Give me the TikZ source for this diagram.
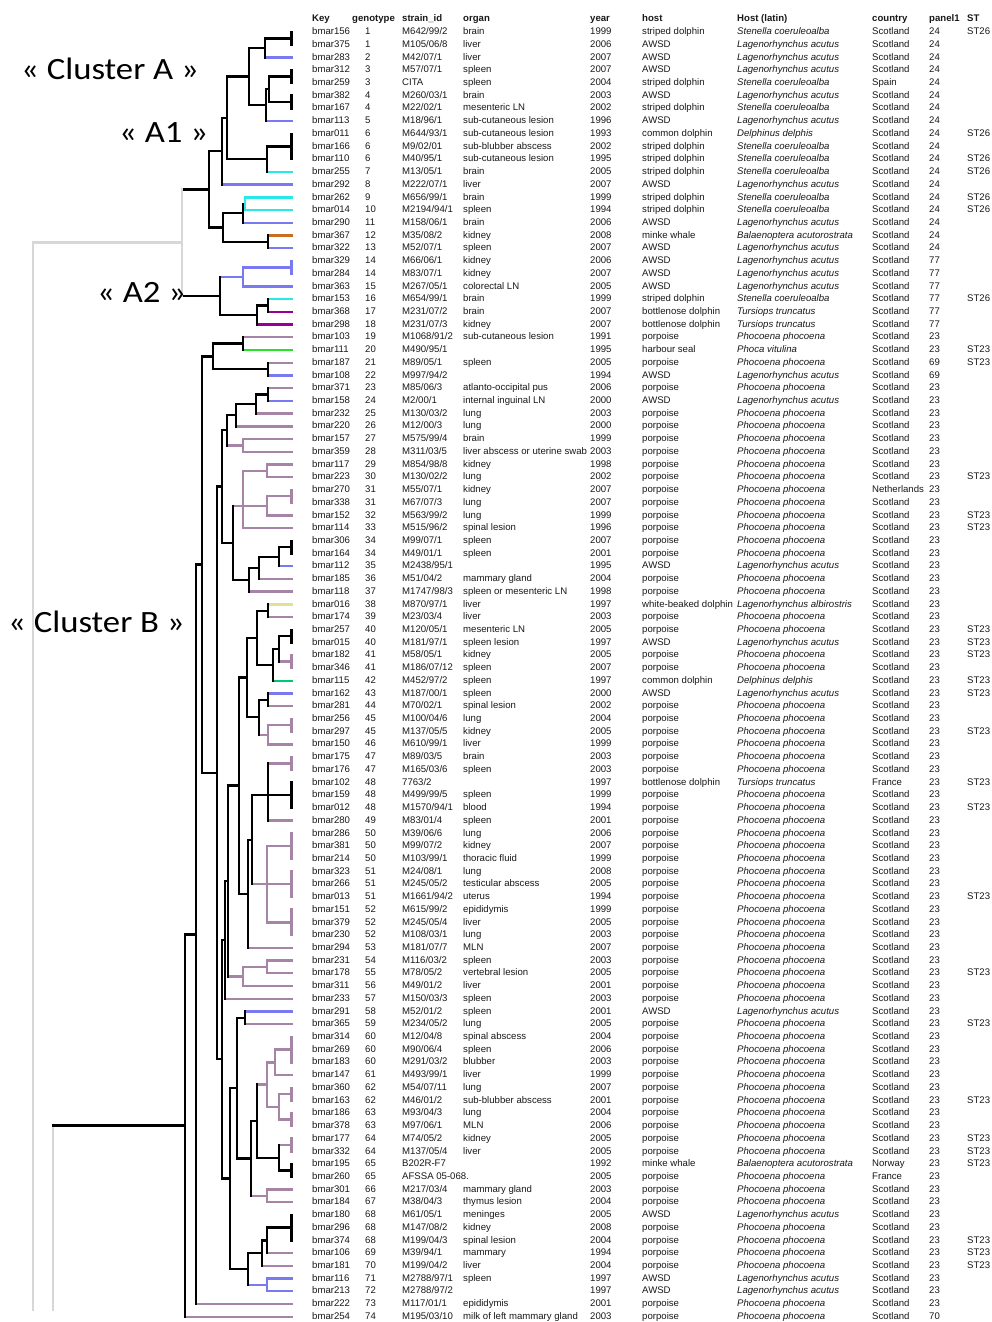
\documentclass[tikz,border=0pt]{standalone}
\usepackage{fontspec}
\setmainfont{Liberation Sans}
\newfontfamily\labfont{Carlito}[FakeStretch=1.12]
\usetikzlibrary{calc}
\definecolor{cAW}{RGB}{122,122,240}
\definecolor{cSD}{RGB}{40,232,232}
\definecolor{cPO}{RGB}{165,132,165}
\definecolor{cMW}{RGB}{200,110,30}
\definecolor{cBD}{RGB}{150,0,150}
\definecolor{cHS}{RGB}{40,225,40}
\definecolor{cCD}{RGB}{0,200,110}
\definecolor{cWB}{RGB}{225,225,150}
\definecolor{cGR}{RGB}{215,215,215}
\definecolor{cTX}{RGB}{25,25,25}
\tikzset{
  br/.style={line width=2.4pt, line cap=rect},
  tc/.style={anchor=mid west, inner sep=0pt, text=cTX, font=\fontsize{9.6}{11}\selectfont},
  tci/.style={tc, font=\fontsize{9.6}{11}\selectfont\itshape},
  hc/.style={tc, font=\fontsize{9.6}{11}\selectfont\bfseries},
  lab/.style={anchor=base west, inner sep=0pt, font=\labfont\fontsize{31}{33}\selectfont, text=black},
}
\newcommand\tnode[4]{\path let \p1=(#3), \p2=(#4) in (#2pt,{0.5*(\y1)+0.5*(\y2)}) coordinate (#1);}
\newcommand\tnodeM[3]{\path let \p1=(#3) in (#2pt,\y1) coordinate (#1);}
\newcommand\tick[4]{%
  \pgfmathsetmacro\ya{-(32+(#2-1)*12.72)}\pgfmathsetmacro\yb{-(32+(#3-1)*12.72)}%
  \pgfmathsetmacro\ym{0.5*((\ya)+(\yb))}%
  \coordinate (#1) at (291.5pt,\ym pt);
  \draw[br,#4] (291.5pt,\ya pt) -- (291.5pt,\yb pt);}
\newcommand\brV[4]{\draw[br,#4] (#1 |- #2) -- (#1 |- #3);}
\newcommand\brH[3]{\draw[br,#3] (#1 |- #2) -- (#2);}
\newcommand\tn[7]{\tnode{#1}{#2}{#3}{#4}\brH{#1}{#3}{#6}\brH{#1}{#4}{#7}\brV{#1}{#3}{#4}{#5}}
\newcommand\tnt[9]{\tnodeM{#1}{#2}{#4}\brH{#1}{#3}{#7}\brH{#1}{#4}{#8}\brH{#1}{#5}{#9}\brV{#1}{#3}{#5}{#6}}
\newcommand\R[9]{\pgfmathsetmacro\yy{-(32+(#1-1)*12.72)}%
  \node[tc] (k#1) at (312pt,\yy pt) {#2};
  \node[tc] (g#1) at (365pt,\yy pt) {#3};
  \node[tc] (s#1) at (402pt,\yy pt) {#4};
  \node[tc] (o#1) at (463pt,\yy pt) {#5};
  \node[tc] (y#1) at (590pt,\yy pt) {#6};
  \node[tc] (h#1) at (642pt,\yy pt) {#7};
  \node[tci] (l#1) at (737pt,\yy pt) {#8};
  \node[tc] (c#1) at (872pt,\yy pt) {#9};
  \def\rowid{#1}\Rcont}
\newcommand\Rcont[2]{\node[tc] (p\rowid) at (929pt,\yy pt) {#1};
  \node[tc] (t\rowid) at (967pt,\yy pt) {#2};}
\begin{document}
\begin{tikzpicture}
\fill[white] (0pt,0pt) rectangle (992pt,-1322pt);
\useasboundingbox (0pt,0pt) rectangle (992pt,-1322pt);
% leaves
\foreach \i in {1,...,102}{\pgfmathsetmacro\yy{-(32+(\i-1)*12.72)}\coordinate (L\i) at (292pt,\yy pt);}
% ticks (identical-genotype groups)
\tick{TA}{1}{2}{black}
\tick{TB}{4}{5}{black}
\tick{TC}{6}{7}{black}
\tick{TD}{9}{11}{black}
\tick{TE}{19}{20}{cAW}
\tick{TF}{37}{38}{cPO}
\tick{TG}{41}{42}{black}
\tick{TH}{48}{49}{black}
\tick{TI}{50}{51}{cPO}
\tick{TJ}{55}{56}{cPO}
\tick{TK}{58}{59}{cPO}
\tick{TL}{60}{62}{black}
\tick{TM}{64}{66}{cPO}
\tick{TN}{67}{69}{cPO}
\tick{TO}{70}{72}{cPO}
\tick{TP}{80}{82}{cPO}
\tick{TQ}{84}{85}{cPO}
\tick{TR}{86}{87}{cPO}
\tick{TS}{88}{89}{cPO}
\tick{TT}{90}{91}{black}
\tick{TU}{94}{96}{black}
% cluster A
\tn{Af}{265}{TA}{L3}{black}{black}{cAW}
\tn{Ag2}{269}{TB}{TC}{black}{black}{black}
\tn{Ag}{266}{Ag2}{L8}{black}{black}{cAW}
\tn{Ad}{249}{Af}{Ag}{black}{black}{black}
\tn{Ae}{267}{TD}{L12}{black}{black}{cSD}
\tn{Ac}{227}{Ad}{Ae}{black}{black}{black}
\tn{Aa}{222}{Ac}{L13}{black}{black}{cAW}
\tn{Ah2}{245}{L14}{L15}{cSD}{cSD}{cSD}
\tn{Ah}{243}{Ah2}{L16}{black}{cSD}{cAW}
\tn{Ai}{268}{L17}{L18}{black}{cMW}{cAW}
\tn{Ab}{223}{Ah}{Ai}{black}{black}{black}
\tn{A1}{209}{Aa}{Ab}{black}{black}{black}
\tn{Aj}{243}{TE}{L21}{cAW}{cAW}{cAW}
\tn{Al}{268}{L22}{L23}{black}{cSD}{cBD}
\tn{Ak}{257}{Al}{L24}{black}{black}{cBD}
\tn{A2}{220}{Aj}{Ak}{black}{cAW}{black}
\tn{AR}{182}{A1}{A2}{cGR}{black}{black}
% cluster B
\tn{Ba}{243}{L25}{L26}{black}{cPO}{cHS}
\tn{Bb}{268}{L27}{L28}{black}{cPO}{cAW}
\tn{B3}{213}{Ba}{Bb}{black}{black}{black}
\tn{Bc}{268}{L29}{L30}{black}{cPO}{cAW}
\tn{B10}{256}{Bc}{L31}{black}{black}{cPO}
\tn{B9}{236}{B10}{L32}{black}{black}{cPO}
\tn{Bd}{243}{L33}{L34}{cPO}{cPO}{cPO}
\tn{B7}{227}{B9}{Bd}{black}{black}{cPO}
\tn{Be}{267}{L35}{L36}{cPO}{cPO}{cPO}
\tn{Bf}{267}{TF}{L39}{cPO}{cPO}{cPO}
\tnt{P1}{243}{Be}{Bf}{L40}{cPO}{cPO}{cPO}{cPO}
\tn{B13}{279}{TG}{L43}{black}{black}{cAW}
\tn{B12}{259}{B13}{L44}{black}{black}{cPO}
\tn{B11}{249}{B12}{L45}{black}{black}{cPO}
\tn{B8}{233}{P1}{B11}{black}{cPO}{black}
\tn{B5}{222}{B7}{B8}{black}{black}{black}
\tn{Xa}{268}{L46}{L47}{black}{cWB}{cPO}
\tn{Xb}{279}{TH}{TI}{black}{black}{cPO}
\tn{Xc}{273}{Xb}{L52}{black}{black}{cCD}
\tn{X257}{257}{Xa}{Xc}{black}{black}{black}
\tn{Xd}{268}{L53}{L54}{black}{cAW}{cPO}
\tn{Xe}{268}{TJ}{L57}{cPO}{cPO}{cPO}
\tn{X259}{259}{Xd}{Xe}{black}{black}{cPO}
\tn{X247}{247}{X257}{X259}{black}{black}{black}
\tnt{Qa}{268}{TK}{TL}{L63}{black}{cPO}{black}{cPO}
\tnt{Qb}{267}{TM}{TN}{TO}{cPO}{cPO}{cPO}{cPO}
\tn{Q}{252}{Qa}{Qb}{black}{black}{cPO}
\tn{N50}{248}{Q}{L73}{black}{black}{cPO}
\tn{X239}{239}{X247}{N50}{black}{black}{black}
\tn{Ra}{267}{L74}{L75}{cPO}{cPO}{cPO}
\tn{Rb}{243}{Ra}{L76}{cPO}{cPO}{cPO}
\tn{B16}{228}{X239}{Rb}{black}{black}{cPO}
\tn{B14}{225}{B16}{L77}{black}{black}{cPO}
\tn{Ya}{245}{L78}{L79}{black}{cAW}{cPO}
\tn{Yb}{275}{TP}{L83}{cPO}{cPO}{cPO}
\tn{Yc}{279}{TQ}{TR}{cPO}{cPO}{cPO}
\tn{Yd}{267}{Yb}{Yc}{cPO}{cPO}{cPO}
\tn{Ye}{279}{TS}{TT}{black}{cPO}{black}
\tn{Y257}{257}{Yd}{Ye}{black}{cPO}{black}
\tn{Yf}{267}{L92}{L93}{cPO}{cPO}{cPO}
\tn{Y251}{251}{Y257}{Yf}{black}{black}{cPO}
\tn{Y237}{237}{Ya}{Y251}{black}{black}{black}
\tn{Yg}{267}{TU}{L97}{black}{black}{cPO}
\tn{Y262}{262}{Yg}{L98}{black}{black}{cPO}
\tn{Yh}{267}{L99}{L100}{cAW}{cAW}{cAW}
\tn{Y248}{248}{Y262}{Yh}{black}{black}{cAW}
\tn{B15}{230}{Y237}{Y248}{black}{black}{black}
\tn{B6}{222}{B14}{B15}{black}{black}{black}
\tn{B4}{217}{B5}{B6}{black}{black}{black}
\tn{B2}{202}{B3}{B4}{black}{black}{black}
\tn{B1}{196}{B2}{L101}{black}{black}{cPO}
\tn{B0}{185}{B1}{L102}{black}{black}{cPO}
% root lines
\path (AR) ++(-149pt,0pt) coordinate (RA);
\path (B0) ++(-132pt,0pt) coordinate (RB);
\coordinate (RAe) at (33pt,-1310pt);
\coordinate (RBe) at (53pt,-1310pt);
\draw[br,cGR] (AR) -- (RA) -- (RAe);
\draw[br,cGR] (RB) -- (RBe);
\draw[br,black] (RB) -- (B0);
% cluster labels
\node[lab] (labA) at (21pt,-80pt) {« Cluster A »};
\node[lab] (labA1) at (119pt,-142pt) {« A1 »};
\node[lab] (labA2) at (97pt,-302pt) {« A2 »};
\node[lab] (labB) at (8pt,-632pt) {« Cluster B »};
% header
\node[hc] (hk) at (312pt,-19.3pt) {Key};
\node[hc] (hg) at (352pt,-19.3pt) {genotype};
\node[hc] (hs) at (402pt,-19.3pt) {strain\_id};
\node[hc] (ho) at (463pt,-19.3pt) {organ};
\node[hc] (hy) at (590pt,-19.3pt) {year};
\node[hc] (hh) at (642pt,-19.3pt) {host};
\node[hc] (hl) at (737pt,-19.3pt) {Host (latin)};
\node[hc] (hc) at (872pt,-19.3pt) {country};
\node[hc] (hp) at (929pt,-19.3pt) {panel1};
\node[hc] (ht) at (967pt,-19.3pt) {ST};
% rows
\R{1}{bmar156}{1}{M642/99/2}{brain}{1999}{striped dolphin}{Stenella coeruleoalba}{Scotland}{24}{ST26}
\R{2}{bmar375}{1}{M105/06/8}{liver}{2006}{AWSD}{Lagenorhynchus acutus}{Scotland}{24}{}
\R{3}{bmar283}{2}{M42/07/1}{liver}{2007}{AWSD}{Lagenorhynchus acutus}{Scotland}{24}{}
\R{4}{bmar312}{3}{M57/07/1}{spleen}{2007}{AWSD}{Lagenorhynchus acutus}{Scotland}{24}{}
\R{5}{bmar259}{3}{CITA}{spleen}{2004}{striped dolphin}{Stenella coeruleoalba}{Spain}{24}{}
\R{6}{bmar382}{4}{M260/03/1}{brain}{2003}{AWSD}{Lagenorhynchus acutus}{Scotland}{24}{}
\R{7}{bmar167}{4}{M22/02/1}{mesenteric LN}{2002}{striped dolphin}{Stenella coeruleoalba}{Scotland}{24}{}
\R{8}{bmar113}{5}{M18/96/1}{sub-cutaneous lesion}{1996}{AWSD}{Lagenorhynchus acutus}{Scotland}{24}{}
\R{9}{bmar011}{6}{M644/93/1}{sub-cutaneous lesion}{1993}{common dolphin}{Delphinus delphis}{Scotland}{24}{ST26}
\R{10}{bmar166}{6}{M9/02/01}{sub-blubber abscess}{2002}{striped dolphin}{Stenella coeruleoalba}{Scotland}{24}{}
\R{11}{bmar110}{6}{M40/95/1}{sub-cutaneous lesion}{1995}{striped dolphin}{Stenella coeruleoalba}{Scotland}{24}{ST26}
\R{12}{bmar255}{7}{M13/05/1}{brain}{2005}{striped dolphin}{Stenella coeruleoalba}{Scotland}{24}{ST26}
\R{13}{bmar292}{8}{M222/07/1}{liver}{2007}{AWSD}{Lagenorhynchus acutus}{Scotland}{24}{}
\R{14}{bmar262}{9}{M656/99/1}{brain}{1999}{striped dolphin}{Stenella coeruleoalba}{Scotland}{24}{ST26}
\R{15}{bmar014}{10}{M2194/94/1}{spleen}{1994}{striped dolphin}{Stenella coeruleoalba}{Scotland}{24}{ST26}
\R{16}{bmar290}{11}{M158/06/1}{brain}{2006}{AWSD}{Lagenorhynchus acutus}{Scotland}{24}{}
\R{17}{bmar367}{12}{M35/08/2}{kidney}{2008}{minke whale}{Balaenoptera acutorostrata}{Scotland}{24}{}
\R{18}{bmar322}{13}{M52/07/1}{spleen}{2007}{AWSD}{Lagenorhynchus acutus}{Scotland}{24}{}
\R{19}{bmar329}{14}{M66/06/1}{kidney}{2006}{AWSD}{Lagenorhynchus acutus}{Scotland}{77}{}
\R{20}{bmar284}{14}{M83/07/1}{kidney}{2007}{AWSD}{Lagenorhynchus acutus}{Scotland}{77}{}
\R{21}{bmar363}{15}{M267/05/1}{colorectal LN}{2005}{AWSD}{Lagenorhynchus acutus}{Scotland}{77}{}
\R{22}{bmar153}{16}{M654/99/1}{brain}{1999}{striped dolphin}{Stenella coeruleoalba}{Scotland}{77}{ST26}
\R{23}{bmar368}{17}{M231/07/2}{brain}{2007}{bottlenose dolphin}{Tursiops truncatus}{Scotland}{77}{}
\R{24}{bmar298}{18}{M231/07/3}{kidney}{2007}{bottlenose dolphin}{Tursiops truncatus}{Scotland}{77}{}
\R{25}{bmar103}{19}{M1068/91/2}{sub-cutaneous lesion}{1991}{porpoise}{Phocoena phocoena}{Scotland}{23}{}
\R{26}{bmar111}{20}{M490/95/1}{}{1995}{harbour seal}{Phoca vitulina}{Scotland}{23}{ST23}
\R{27}{bmar187}{21}{M89/05/1}{spleen}{2005}{porpoise}{Phocoena phocoena}{Scotland}{69}{ST23}
\R{28}{bmar108}{22}{M997/94/2}{}{1994}{AWSD}{Lagenorhynchus acutus}{Scotland}{69}{}
\R{29}{bmar371}{23}{M85/06/3}{atlanto-occipital pus}{2006}{porpoise}{Phocoena phocoena}{Scotland}{23}{}
\R{30}{bmar158}{24}{M2/00/1}{internal inguinal LN}{2000}{AWSD}{Lagenorhynchus acutus}{Scotland}{23}{}
\R{31}{bmar232}{25}{M130/03/2}{lung}{2003}{porpoise}{Phocoena phocoena}{Scotland}{23}{}
\R{32}{bmar220}{26}{M12/00/3}{lung}{2000}{porpoise}{Phocoena phocoena}{Scotland}{23}{}
\R{33}{bmar157}{27}{M575/99/4}{brain}{1999}{porpoise}{Phocoena phocoena}{Scotland}{23}{}
\R{34}{bmar359}{28}{M311/03/5}{liver abscess or uterine swab}{2003}{porpoise}{Phocoena phocoena}{Scotland}{23}{}
\R{35}{bmar117}{29}{M854/98/8}{kidney}{1998}{porpoise}{Phocoena phocoena}{Scotland}{23}{}
\R{36}{bmar223}{30}{M130/02/2}{lung}{2002}{porpoise}{Phocoena phocoena}{Scotland}{23}{ST23}
\R{37}{bmar270}{31}{M55/07/1}{kidney}{2007}{porpoise}{Phocoena phocoena}{Netherlands}{23}{}
\R{38}{bmar338}{31}{M67/07/3}{lung}{2007}{porpoise}{Phocoena phocoena}{Scotland}{23}{}
\R{39}{bmar152}{32}{M563/99/2}{lung}{1999}{porpoise}{Phocoena phocoena}{Scotland}{23}{ST23}
\R{40}{bmar114}{33}{M515/96/2}{spinal lesion}{1996}{porpoise}{Phocoena phocoena}{Scotland}{23}{ST23}
\R{41}{bmar306}{34}{M99/07/1}{spleen}{2007}{porpoise}{Phocoena phocoena}{Scotland}{23}{}
\R{42}{bmar164}{34}{M49/01/1}{spleen}{2001}{porpoise}{Phocoena phocoena}{Scotland}{23}{}
\R{43}{bmar112}{35}{M2438/95/1}{}{1995}{AWSD}{Lagenorhynchus acutus}{Scotland}{23}{}
\R{44}{bmar185}{36}{M51/04/2}{mammary gland}{2004}{porpoise}{Phocoena phocoena}{Scotland}{23}{}
\R{45}{bmar118}{37}{M1747/98/3}{spleen or mesenteric LN}{1998}{porpoise}{Phocoena phocoena}{Scotland}{23}{}
\R{46}{bmar016}{38}{M870/97/1}{liver}{1997}{white-beaked dolphin}{Lagenorhynchus albirostris}{Scotland}{23}{}
\R{47}{bmar174}{39}{M23/03/4}{liver}{2003}{porpoise}{Phocoena phocoena}{Scotland}{23}{}
\R{48}{bmar257}{40}{M120/05/1}{mesenteric LN}{2005}{porpoise}{Phocoena phocoena}{Scotland}{23}{ST23}
\R{49}{bmar015}{40}{M181/97/1}{spleen lesion}{1997}{AWSD}{Lagenorhynchus acutus}{Scotland}{23}{ST23}
\R{50}{bmar182}{41}{M58/05/1}{kidney}{2005}{porpoise}{Phocoena phocoena}{Scotland}{23}{ST23}
\R{51}{bmar346}{41}{M186/07/12}{spleen}{2007}{porpoise}{Phocoena phocoena}{Scotland}{23}{}
\R{52}{bmar115}{42}{M452/97/2}{spleen}{1997}{common dolphin}{Delphinus delphis}{Scotland}{23}{ST23}
\R{53}{bmar162}{43}{M187/00/1}{spleen}{2000}{AWSD}{Lagenorhynchus acutus}{Scotland}{23}{ST23}
\R{54}{bmar281}{44}{M70/02/1}{spinal lesion}{2002}{porpoise}{Phocoena phocoena}{Scotland}{23}{}
\R{55}{bmar256}{45}{M100/04/6}{lung}{2004}{porpoise}{Phocoena phocoena}{Scotland}{23}{}
\R{56}{bmar297}{45}{M137/05/5}{kidney}{2005}{porpoise}{Phocoena phocoena}{Scotland}{23}{ST23}
\R{57}{bmar150}{46}{M610/99/1}{liver}{1999}{porpoise}{Phocoena phocoena}{Scotland}{23}{}
\R{58}{bmar175}{47}{M89/03/5}{brain}{2003}{porpoise}{Phocoena phocoena}{Scotland}{23}{}
\R{59}{bmar176}{47}{M165/03/6}{spleen}{2003}{porpoise}{Phocoena phocoena}{Scotland}{23}{}
\R{60}{bmar102}{48}{7763/2}{}{1997}{bottlenose dolphin}{Tursiops truncatus}{France}{23}{ST23}
\R{61}{bmar159}{48}{M499/99/5}{spleen}{1999}{porpoise}{Phocoena phocoena}{Scotland}{23}{}
\R{62}{bmar012}{48}{M1570/94/1}{blood}{1994}{porpoise}{Phocoena phocoena}{Scotland}{23}{ST23}
\R{63}{bmar280}{49}{M83/01/4}{spleen}{2001}{porpoise}{Phocoena phocoena}{Scotland}{23}{}
\R{64}{bmar286}{50}{M39/06/6}{lung}{2006}{porpoise}{Phocoena phocoena}{Scotland}{23}{}
\R{65}{bmar381}{50}{M99/07/2}{kidney}{2007}{porpoise}{Phocoena phocoena}{Scotland}{23}{}
\R{66}{bmar214}{50}{M103/99/1}{thoracic fluid}{1999}{porpoise}{Phocoena phocoena}{Scotland}{23}{}
\R{67}{bmar323}{51}{M24/08/1}{lung}{2008}{porpoise}{Phocoena phocoena}{Scotland}{23}{}
\R{68}{bmar266}{51}{M245/05/2}{testicular abscess}{2005}{porpoise}{Phocoena phocoena}{Scotland}{23}{}
\R{69}{bmar013}{51}{M1661/94/2}{uterus}{1994}{porpoise}{Phocoena phocoena}{Scotland}{23}{ST23}
\R{70}{bmar151}{52}{M615/99/2}{epididymis}{1999}{porpoise}{Phocoena phocoena}{Scotland}{23}{}
\R{71}{bmar379}{52}{M245/05/4}{liver}{2005}{porpoise}{Phocoena phocoena}{Scotland}{23}{}
\R{72}{bmar230}{52}{M108/03/1}{lung}{2003}{porpoise}{Phocoena phocoena}{Scotland}{23}{}
\R{73}{bmar294}{53}{M181/07/7}{MLN}{2007}{porpoise}{Phocoena phocoena}{Scotland}{23}{}
\R{74}{bmar231}{54}{M116/03/2}{spleen}{2003}{porpoise}{Phocoena phocoena}{Scotland}{23}{}
\R{75}{bmar178}{55}{M78/05/2}{vertebral lesion}{2005}{porpoise}{Phocoena phocoena}{Scotland}{23}{ST23}
\R{76}{bmar311}{56}{M49/01/2}{liver}{2001}{porpoise}{Phocoena phocoena}{Scotland}{23}{}
\R{77}{bmar233}{57}{M150/03/3}{spleen}{2003}{porpoise}{Phocoena phocoena}{Scotland}{23}{}
\R{78}{bmar291}{58}{M52/01/2}{spleen}{2001}{AWSD}{Lagenorhynchus acutus}{Scotland}{23}{}
\R{79}{bmar365}{59}{M234/05/2}{lung}{2005}{porpoise}{Phocoena phocoena}{Scotland}{23}{ST23}
\R{80}{bmar314}{60}{M12/04/8}{spinal abscess}{2004}{porpoise}{Phocoena phocoena}{Scotland}{23}{}
\R{81}{bmar269}{60}{M90/06/4}{spleen}{2006}{porpoise}{Phocoena phocoena}{Scotland}{23}{}
\R{82}{bmar183}{60}{M291/03/2}{blubber}{2003}{porpoise}{Phocoena phocoena}{Scotland}{23}{}
\R{83}{bmar147}{61}{M493/99/1}{liver}{1999}{porpoise}{Phocoena phocoena}{Scotland}{23}{}
\R{84}{bmar360}{62}{M54/07/11}{lung}{2007}{porpoise}{Phocoena phocoena}{Scotland}{23}{}
\R{85}{bmar163}{62}{M46/01/2}{sub-blubber abscess}{2001}{porpoise}{Phocoena phocoena}{Scotland}{23}{ST23}
\R{86}{bmar186}{63}{M93/04/3}{lung}{2004}{porpoise}{Phocoena phocoena}{Scotland}{23}{}
\R{87}{bmar378}{63}{M97/06/1}{MLN}{2006}{porpoise}{Phocoena phocoena}{Scotland}{23}{}
\R{88}{bmar177}{64}{M74/05/2}{kidney}{2005}{porpoise}{Phocoena phocoena}{Scotland}{23}{ST23}
\R{89}{bmar332}{64}{M137/05/4}{liver}{2005}{porpoise}{Phocoena phocoena}{Scotland}{23}{ST23}
\R{90}{bmar195}{65}{B202R-F7}{}{1992}{minke whale}{Balaenoptera acutorostrata}{Norway}{23}{ST23}
\R{91}{bmar260}{65}{AFSSA 05-068.}{}{2005}{porpoise}{Phocoena phocoena}{France}{23}{}
\R{92}{bmar301}{66}{M217/03/4}{mammary gland}{2003}{porpoise}{Phocoena phocoena}{Scotland}{23}{}
\R{93}{bmar184}{67}{M38/04/3}{thymus lesion}{2004}{porpoise}{Phocoena phocoena}{Scotland}{23}{}
\R{94}{bmar180}{68}{M61/05/1}{meninges}{2005}{AWSD}{Lagenorhynchus acutus}{Scotland}{23}{}
\R{95}{bmar296}{68}{M147/08/2}{kidney}{2008}{porpoise}{Phocoena phocoena}{Scotland}{23}{}
\R{96}{bmar374}{68}{M199/04/3}{spinal lesion}{2004}{porpoise}{Phocoena phocoena}{Scotland}{23}{ST23}
\R{97}{bmar106}{69}{M39/94/1}{mammary}{1994}{porpoise}{Phocoena phocoena}{Scotland}{23}{ST23}
\R{98}{bmar181}{70}{M199/04/2}{liver}{2004}{porpoise}{Phocoena phocoena}{Scotland}{23}{ST23}
\R{99}{bmar116}{71}{M2788/97/1}{spleen}{1997}{AWSD}{Lagenorhynchus acutus}{Scotland}{23}{}
\R{100}{bmar213}{72}{M2788/97/2}{}{1997}{AWSD}{Lagenorhynchus acutus}{Scotland}{23}{}
\R{101}{bmar222}{73}{M117/01/1}{epididymis}{2001}{porpoise}{Phocoena phocoena}{Scotland}{23}{}
\R{102}{bmar254}{74}{M195/03/10}{milk of left mammary gland}{2003}{porpoise}{Phocoena phocoena}{Scotland}{70}{}
\end{tikzpicture}
\end{document}
